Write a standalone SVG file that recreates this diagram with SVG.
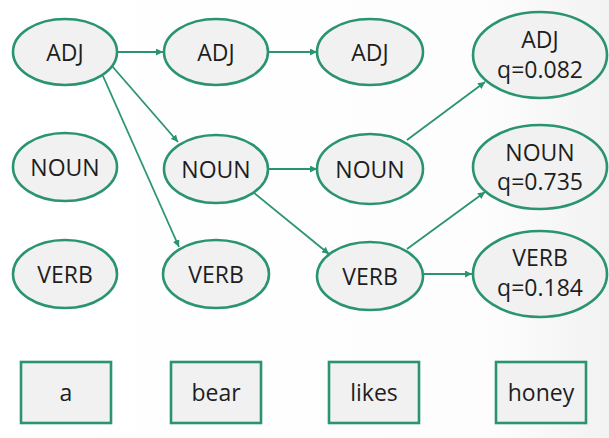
<svg xmlns="http://www.w3.org/2000/svg" width="609" height="438" viewBox="0 0 609 438">
<defs>
<linearGradient id="bg" x1="0" y1="0" x2="1" y2="0">
<stop offset="0" stop-color="#ffffff"/>
<stop offset="0.8" stop-color="#fdfdfd"/>
<stop offset="1" stop-color="#f2f2f2"/>
</linearGradient>
<marker id="ah" viewBox="0 0 10 10" refX="10" refY="5" markerWidth="7" markerHeight="7" markerUnits="userSpaceOnUse" orient="auto">
<path d="M0,0 L10,5 L0,10 z" fill="#2a9470"/>
</marker>
<style>
.n ellipse, .n rect { fill: #f1f1f1; stroke: #2a9470; stroke-width: 2.6; }
.n text { font-family: "Open Sans", "Liberation Sans", sans-serif; font-size: 23px; fill: #1e1e1e; text-anchor: middle; }
.c line { stroke: #2a9470; stroke-width: 1.8; marker-end: url(#ah); }
</style>
</defs>
<rect width="609" height="438" fill="url(#bg)"/>
<g class="c" id="connectors">
<line x1="117" y1="52" x2="163" y2="52"/>
<line x1="268" y1="52" x2="317" y2="52"/>
<line x1="112" y1="66" x2="178" y2="142"/>
<line x1="103" y1="76" x2="179" y2="247"/>
<line x1="268" y1="169" x2="317" y2="169"/>
<line x1="253" y1="192" x2="329" y2="254"/>
<line x1="407" y1="140" x2="485" y2="82"/>
<line x1="407" y1="249" x2="485" y2="192"/>
<line x1="424" y1="274" x2="472" y2="274"/>
</g>
<g class="n" id="adj1"><ellipse cx="65" cy="52" rx="52" ry="33"/><text x="65" y="61">ADJ</text></g>
<g class="n" id="noun1"><ellipse cx="65" cy="167" rx="52" ry="34"/><text x="65" y="176">NOUN</text></g>
<g class="n" id="verb1"><ellipse cx="65" cy="274" rx="52" ry="34"/><text x="65" y="283">VERB</text></g>
<g class="n" id="adj2"><ellipse cx="216" cy="52" rx="52" ry="33"/><text x="216" y="61">ADJ</text></g>
<g class="n" id="noun2"><ellipse cx="216" cy="169" rx="52" ry="34"/><text x="216" y="178">NOUN</text></g>
<g class="n" id="verb2"><ellipse cx="216" cy="274" rx="53" ry="34"/><text x="216" y="283">VERB</text></g>
<g class="n" id="adj3"><ellipse cx="370" cy="52" rx="53" ry="33"/><text x="370" y="61">ADJ</text></g>
<g class="n" id="noun3"><ellipse cx="370" cy="169" rx="53" ry="35"/><text x="370" y="178">NOUN</text></g>
<g class="n" id="verb3"><ellipse cx="370" cy="276" rx="53" ry="34"/><text x="370" y="285">VERB</text></g>
<g class="n" id="adjq"><ellipse cx="540" cy="55" rx="67" ry="43"/><text x="540" y="48">ADJ</text><text x="540" y="78">q=0.082</text></g>
<g class="n" id="nounq"><ellipse cx="540" cy="167" rx="67" ry="42"/><text x="540" y="161">NOUN</text><text x="540" y="190">q=0.735</text></g>
<g class="n" id="verbq"><ellipse cx="540" cy="274" rx="67" ry="43"/><text x="540" y="266">VERB</text><text x="540" y="296">q=0.184</text></g>
<g class="n" id="w-a"><rect x="21" y="362" width="90" height="61"/><text x="66" y="401">a</text></g>
<g class="n" id="w-bear"><rect x="171" y="362" width="90" height="61"/><text x="216" y="401">bear</text></g>
<g class="n" id="w-likes"><rect x="329" y="362" width="90" height="61"/><text x="374" y="401">likes</text></g>
<g class="n" id="w-honey"><rect x="496" y="362" width="90" height="61"/><text x="541" y="401">honey</text></g>
</svg>
